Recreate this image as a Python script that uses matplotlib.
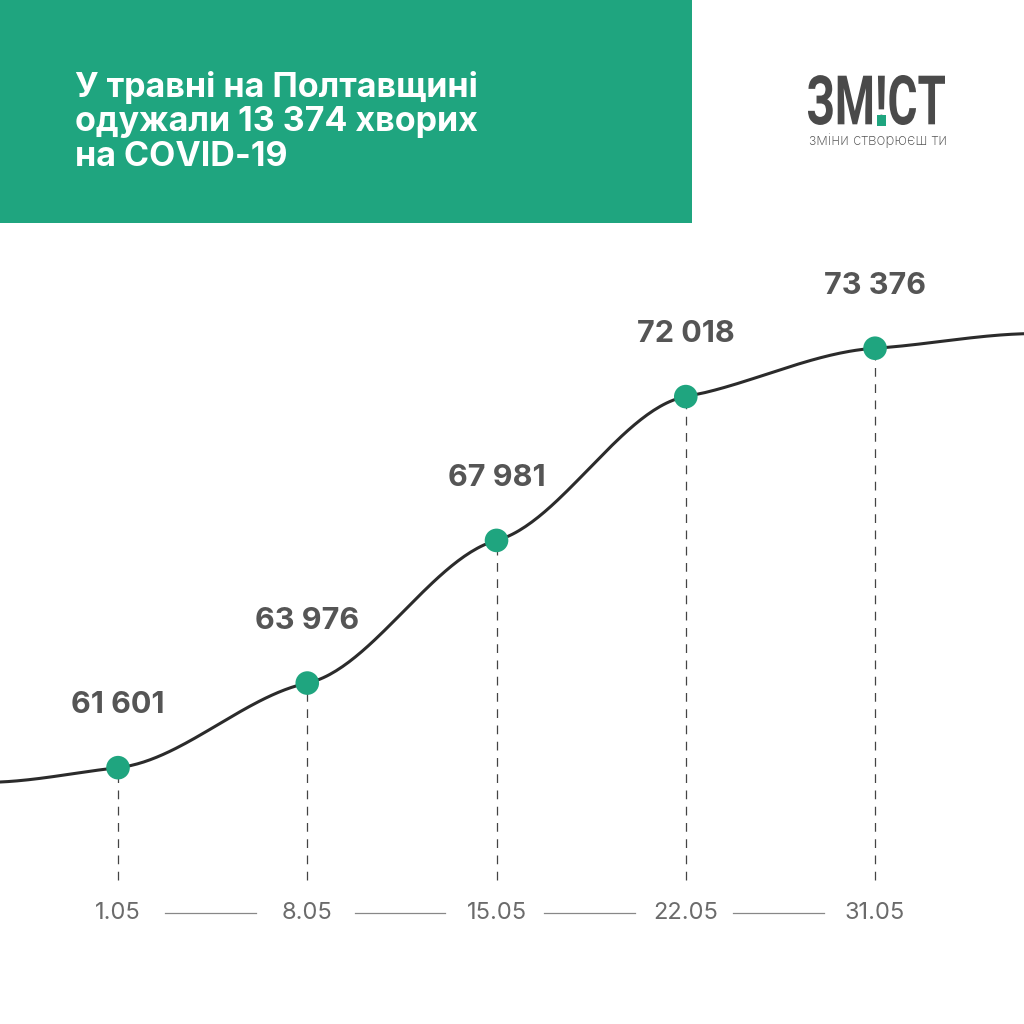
import numpy as np
import matplotlib
matplotlib.use('Agg')
import matplotlib.pyplot as plt
from matplotlib.patches import Rectangle, PathPatch
from matplotlib.textpath import TextPath
from matplotlib.font_manager import FontProperties
from matplotlib.transforms import Affine2D

plt.rcParams['font.family'] = ['Inter', 'DejaVu Sans']

# data
dates = ['1.05', '8.05', '15.05', '22.05', '31.05']
recovered = [61601, 63976, 67981, 72018, 73376]
title = 'У травні на Полтавщині\nодужали 13 374 хворих\nна COVID-19'

GREEN = '#1fa57f'
DARK = '#2b2b2b'
GREY = '#555555'


def hermite_curve(xs, ys, k=0.5, n=60):
    '''smooth curve through the nodes, tangents shrunk by k'''
    xs = np.asarray(xs, float)
    ys = np.asarray(ys, float)
    m = np.zeros_like(ys)
    m[1:-1] = k * (ys[2:] - ys[:-2]) / (xs[2:] - xs[:-2])
    cx, cy = [], []
    for i in range(len(xs) - 1):
        h = xs[i+1] - xs[i]
        t = np.linspace(0, 1, n)
        h00 = 2*t**3 - 3*t**2 + 1
        h10 = t**3 - 2*t**2 + t
        h01 = -2*t**3 + 3*t**2
        h11 = t**3 - t**2
        cx.append(xs[i] + t*h)
        cy.append(h00*ys[i] + h10*h*m[i] + h01*ys[i+1] + h11*h*m[i+1])
    return np.concatenate(cx), np.concatenate(cy)


fig = plt.figure(figsize=(10.24, 10.24), dpi=100)
fig.patch.set_facecolor('white')

# chart axes over the whole figure
ax = fig.add_axes([0, 0, 1, 1])
ax.set_axis_off()
ax.set_xlim(-0.6235, 4.787)
ax.set_ylim(54405, 83152)

x = np.arange(len(recovered))
vals = np.array(recovered)

# curve runs a little past the first and last point
tail = 0.035 * (vals.max() - vals.min())
node_x = np.concatenate([[-0.7], x, [4.85]])
node_y = np.concatenate([[vals[0] - tail], vals, [vals[-1] + tail]])
cx, cy = hermite_curve(node_x, node_y, k=0.35)
ax.plot(cx, cy, color=DARK, lw=2.2, zorder=2, solid_capstyle='round')

# dashed drop lines
lo, hi = ax.get_ylim()
bottom = lo + (1 - 880/1024) * (hi - lo)
ax.vlines(x, bottom, vals, colors='#444444', lw=0.9, linestyles=(0, (7, 6)), zorder=1)

ax.scatter(x, vals, s=17**2, color=GREEN, zorder=3, edgecolors='none')

for xi, v in zip(x, vals):
    ax.annotate(f'{v:,}'.replace(',', ' '), (xi, v), xytext=(0, 45),
                textcoords='offset points', ha='center', va='center',
                fontsize=22, fontweight='bold', color=GREY)

# date labels with little connectors between them
ylab = 1 - 913/1024
trans = ax.get_xaxis_transform()
for xi, d in zip(x, dates):
    ax.text(xi, ylab, d, transform=trans, ha='center', va='center',
            fontsize=17, color='#6b6b6b')
for xi in x[:-1]:
    ax.plot([xi + 0.25, xi + 0.73], [ylab, ylab], transform=trans,
            color='#888888', lw=0.9)

# header block and logo, in pixel coords
deco = fig.add_axes([0, 0, 1, 1], zorder=5)
deco.set_axis_off()
deco.patch.set_alpha(0)
deco.set_xlim(0, 1024)
deco.set_ylim(1024, 0)

deco.add_patch(Rectangle((0, 0), 692, 223, color=GREEN, lw=0))
deco.text(75, 71, title, ha='left', va='top', fontsize=24.5, fontweight='bold',
          color='white', linespacing=1.1)

# logo: condensed bold word squeezed into its box
prop = FontProperties(family=['Roboto', 'DejaVu Sans'], weight='bold')
tp = TextPath((0, 0), 'ЗМ!СТ', size=100, prop=prop)
bb = tp.get_extents()
x0, x1, y0, y1 = 808, 945, 75, 125
sx = (x1 - x0) / bb.width
sy = (y1 - y0) / bb.height
tr = Affine2D().translate(-bb.x0, -bb.y0).scale(sx, -sy).translate(x0, y1)
deco.add_patch(PathPatch(tr.transform_path(tp), color='#4a4a4a', lw=0))

# green dot of the "!"
tp_b = TextPath((0, 0), 'ЗМ!', size=100, prop=prop)
ex = TextPath((0, 0), '!', size=100, prop=prop).get_extents()
adv = tp_b.get_extents().x1 - ex.width - bb.x0
dot_x = x0 + adv * sx
dot_w = ex.width * sx
dot_h = 0.2 * (y1 - y0)
deco.add_patch(Rectangle((dot_x - 1, y1 - dot_h), dot_w + 2, dot_h + 1,
                         color=GREEN, lw=0))

deco.text(x0 + 1, 140, 'зміни створюєш ти', ha='left', va='center',
          fontsize=11, color='#555555', fontweight='light')

fig.savefig('out.png', dpi=100)
